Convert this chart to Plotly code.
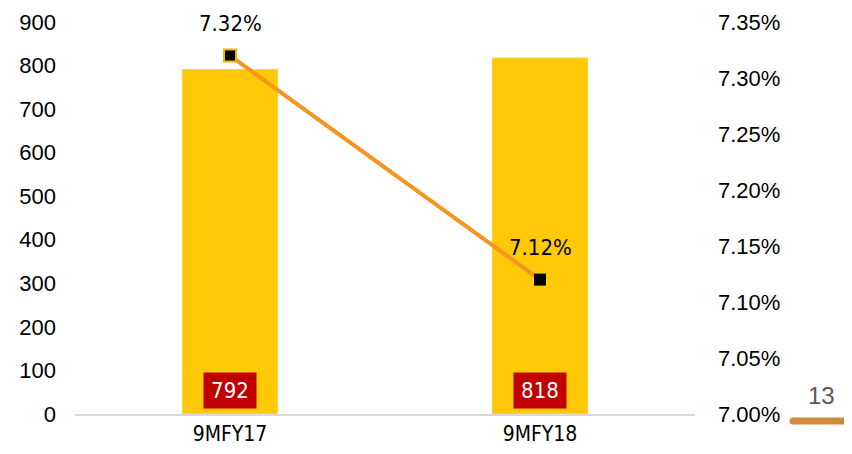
import plotly.graph_objects as go

categories = ["9MFY17", "9MFY18"]
bar_values = [792, 818]
line_values = [7.32, 7.12]
bar_labels = ["792", "818"]
line_labels = ["7.32%", "7.12%"]
left_ticks = [0, 100, 200, 300, 400, 500, 600, 700, 800, 900]
right_ticks = [7.00, 7.05, 7.10, 7.15, 7.20, 7.25, 7.30, 7.35]
right_tick_text = ["%.2f%%" % v for v in right_ticks]
page_number = "13"

BAR = "#FFC907"
LINE = "#F7941D"
RED = "#C00000"
LAB_FONT = "DejaVu Sans Condensed, DejaVu Sans"
AX_FONT = "Liberation Sans, Arial"

# page body has an 8px offset; plot area target (page px): x 75..695, y 22..414
OFF = 8
W, H = 852 - OFF, 454 - OFF
ML, MR, MT, MB = 75 - OFF, 852 - 695, 22 - OFF, 454 - 414

fig = go.Figure()
fig.add_trace(go.Bar(x=categories, y=bar_values, marker_color=BAR, width=0.31,
                     yaxis="y", showlegend=False, hoverinfo="skip"))
fig.add_trace(go.Scatter(x=categories, y=line_values, yaxis="y2", mode="lines+markers",
                         line=dict(color=LINE, width=4),
                         marker=dict(symbol="square", size=12, color="black",
                                     line=dict(color=["#F5B400", "black"], width=[2, 0])),
                         showlegend=False, hoverinfo="skip"))

annotations = []
for c, v, t in zip(categories, line_values, line_labels):
    annotations.append(dict(x=c, y=v, xref="x", yref="y2", text=t, showarrow=False,
                            yshift=32, font=dict(family=LAB_FONT, size=22, color="black")))
for c, t in zip(categories, bar_labels):
    annotations.append(dict(x=c, y=53, xref="x", yref="y", text=t, showarrow=False,
                            bgcolor=RED, borderpad=3, width=46, height=29,
                            font=dict(family=LAB_FONT, size=22, color="white")))


def px2paper_x(px):
    return (px - 75) / 620.0


def px2paper_y(py):
    return (414 - py) / 392.0


annotations.append(dict(x=px2paper_x(821), y=px2paper_y(395), xref="paper", yref="paper",
                        xanchor="center", yanchor="middle",
                        text=page_number, showarrow=False,
                        font=dict(family=AX_FONT, size=24, color="#595959")))

shapes = [
    dict(type="line", xref="paper", yref="paper", x0=px2paper_x(793), x1=px2paper_x(847),
         y0=px2paper_y(421), y1=px2paper_y(421), line=dict(color="#D08C3C", width=7)),
    dict(type="circle", xref="paper", yref="paper", x0=px2paper_x(789.5), x1=px2paper_x(796.5),
         y0=px2paper_y(424.5), y1=px2paper_y(417.5), line=dict(width=0), fillcolor="#D08C3C"),
    dict(type="circle", xref="paper", yref="paper", x0=px2paper_x(843.5), x1=px2paper_x(850.5),
         y0=px2paper_y(424.5), y1=px2paper_y(417.5), line=dict(width=0), fillcolor="#D08C3C"),
]

fig.update_layout(
    width=W, height=H,
    margin=dict(l=ML, r=MR, t=MT, b=MB, autoexpand=False),
    paper_bgcolor="white", plot_bgcolor="white",
    xaxis=dict(showgrid=False, showline=True, linecolor="#D9D9D9", linewidth=2,
               ticks="", tickfont=dict(family=LAB_FONT, size=21, color="black")),
    yaxis=dict(range=[0, 900], tickvals=left_ticks, showgrid=False, zeroline=False,
               showline=False, tickfont=dict(family=AX_FONT, size=22, color="black"),
               ticklabelstandoff=18),
    yaxis2=dict(range=[7.0, 7.35], overlaying="y", side="right", tickvals=right_ticks,
                ticktext=right_tick_text, showgrid=False, zeroline=False, showline=False,
                tickfont=dict(family=AX_FONT, size=22, color="black"),
                ticklabelstandoff=22),
    annotations=annotations,
    shapes=shapes,
)

fig.write_html("out.html")
